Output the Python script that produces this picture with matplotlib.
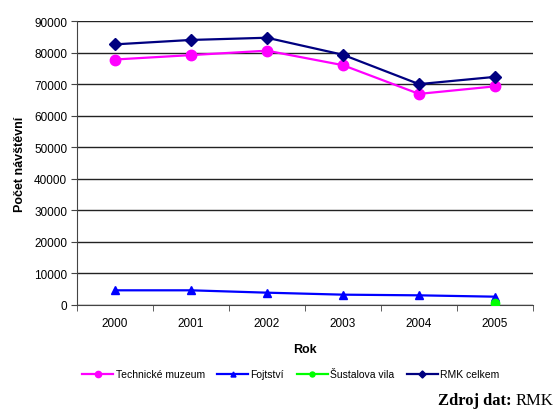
import matplotlib
matplotlib.use("Agg")
from matplotlib import pyplot as plt

plt.rcParams["font.family"] = ["Liberation Sans", "DejaVu Sans"]

roky = ["2000", "2001", "2002", "2003", "2004", "2005"]
technicke = [77800, 79200, 80600, 76000, 66900, 69300]
fojtstvi = [4650, 4650, 3900, 3270, 3060, 2630]
sustalova = [None, None, None, None, None, 600]
rmk = [82600, 84000, 84700, 79300, 70000, 72300]

fig = plt.figure(figsize=(5.59, 4.10), dpi=100)
ax = fig.add_axes([0.1377, 0.2537, 0.8158, 0.6926])

x = list(range(len(roky)))
ax.plot(x, technicke, color="#ff00ff", marker="o", markersize=7.5, lw=1.6,
        label="Technické muzeum", zorder=3)
ax.plot(x, fojtstvi, color="#0000ff", marker="^", markersize=6, lw=1.6,
        label="Fojtství", zorder=3)
sx = [i for i, v in enumerate(sustalova) if v is not None]
sy = [v for v in sustalova if v is not None]
ax.plot(sx, sy, color="#00ff00", marker="o", markersize=6, lw=1.6,
        label="Šustalova vila", zorder=4)
ax.plot(x, rmk, color="#000080", marker="D", markersize=6, lw=1.6,
        label="RMK celkem", zorder=3)

ax.set_xlim(-0.5, len(roky) - 0.5)
ax.set_ylim(0, 90000)
ax.set_yticks(range(0, 90001, 10000))
ax.set_xticks(x)
ax.set_xticklabels(roky, fontsize=8.5)
ax.set_xticks([i - 0.5 for i in range(len(roky) + 1)], minor=True)
ax.tick_params(axis="x", which="major", length=0, pad=9)
ax.tick_params(axis="x", which="minor", length=4, direction="out", color="#444444")
ax.tick_params(axis="y", length=4, direction="out", labelsize=8.5, pad=3,
               color="#444444")
ax.grid(axis="y", color="#222222", lw=1)
for s in ["top", "right"]:
    ax.spines[s].set_visible(False)
ax.spines["left"].set_color("#444444")
ax.spines["bottom"].set_color("#444444")

ax.set_xlabel("Rok", fontweight="bold", fontsize=9, labelpad=10)
ax.set_ylabel("Počet návštěvní", fontweight="bold", fontsize=9, labelpad=6)

fig.legend(loc="center", bbox_to_anchor=(0.52, 0.085), ncol=4, frameon=False,
           fontsize=7.5, handlelength=3, columnspacing=1.2, handletextpad=0.2,
           markerscale=0.6)

# zdroj dat vpravo dole
fig.text(438 / 559, 1 / 410, "Zdroj dat:", family="Liberation Serif",
         fontweight="bold", fontsize=12, ha="left", va="bottom")
fig.text(516 / 559, 1 / 410, "RMK", family="Liberation Serif",
         fontsize=12, ha="left", va="bottom")

fig.savefig("out.png", dpi=100)
